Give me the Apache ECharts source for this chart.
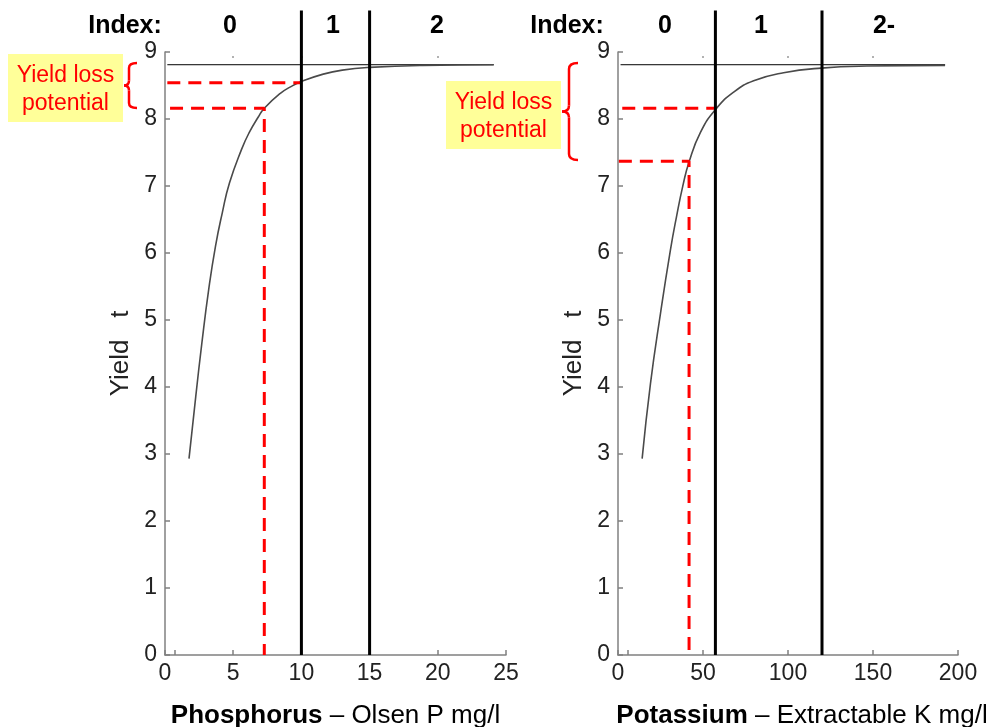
<!DOCTYPE html>
<html>
<head>
<meta charset="utf-8">
<script src="https://cdn.jsdelivr.net/npm/echarts@6/dist/echarts.min.js"></script>
<style>
  html, body { margin: 0; background: #fff; }
  #main { width: 998px; height: 727px; }
</style>
</head>
<body>
<div id="main"></div>
<script>
// response curves: [soil test value, yield t]
var pCurve = [[1.76, 2.93], [2.25, 3.85], [2.70, 4.65], [3.20, 5.45], [3.70, 6.10], [4.20, 6.60],
  [4.72, 7.04], [5.62, 7.55], [6.18, 7.80], [6.84, 8.03], [7.28, 8.16], [8.43, 8.38], [9.2, 8.48],
  [10.0, 8.56], [11.6, 8.67], [13.0, 8.73], [15.0, 8.77], [18.9, 8.80], [24.1, 8.81]];
var kCurve = [[14.2, 2.93], [19.1, 4.05], [25.0, 5.10], [30.8, 6.04], [34.4, 6.54], [38.3, 7.02],
  [41.8, 7.36], [48.5, 7.80], [57.3, 8.14], [68.0, 8.40], [79.8, 8.57], [97.4, 8.69],
  [119.5, 8.76], [146.4, 8.79], [192.4, 8.80]];

var plateau = 8.81;
var pPlateauRange = [0.17, 24.1];
var kPlateauRange = [1.5, 192.4];

// index boundaries (vertical black lines), top end sits above the plot
var pIndexBreaks = [10, 15];
var kIndexBreaks = [57.3, 120];
var breakTop = 9.62;

// yield loss guides (red dashed)
var pLossUpper = [[0.17, 8.54], [10, 8.54]];
var pLossLower = [[0.37, 8.16], [7.28, 8.16], [7.28, 0]];
var kLossUpper = [[2.5, 8.16], [57.3, 8.16]];
var kLossLower = [[0.5, 7.37], [41.8, 7.37], [41.8, 0]];

var pTicks = [0, 0.75, 5, 10, 15, 20, 25];
var kTicks = [0, 6, 50, 100, 150, 200];
var pTopTicks = [5, 10, 15, 20];
var kTopTicks = [50, 100, 150];

var pIndexLabels = ['0', '1', '2'];
var kIndexLabels = ['0', '1', '2-'];

var FONT = '"Liberation Sans", Arial, sans-serif';
var axisGray = '#808080';

var chart = echarts.init(document.getElementById('main'));

function bottomX(grid, max, interval, ticks, title, pad) {
  return {
    type: 'value', gridIndex: grid, position: 'bottom', min: 0, max: max, interval: interval,
    axisLine: { lineStyle: { color: axisGray, width: 1.5 } },
    axisTick: { inside: true, length: 5, customValues: ticks, lineStyle: { color: axisGray, width: 1.5 } },
    axisLabel: { color: '#222', fontSize: 23, fontFamily: FONT, margin: 7 },
    splitLine: { show: false },
    name: title, nameLocation: 'middle', nameGap: 48,
    nameTextStyle: {
      color: '#000', fontSize: 26, fontFamily: FONT, padding: pad,
      rich: { b: { fontWeight: 'bold', fontSize: 26, fontFamily: FONT, color: '#000' } }
    }
  };
}
function topX(grid, max, ticks) {
  return {
    type: 'value', gridIndex: grid, position: 'top', min: 0, max: max, offset: -4,
    axisLine: { show: false },
    axisTick: { inside: true, length: 2, customValues: ticks, lineStyle: { color: '#999', width: 1.5 } },
    axisLabel: { show: false }, splitLine: { show: false }
  };
}
function leftY(grid) {
  return {
    type: 'value', gridIndex: grid, min: 0, max: 9, interval: 1,
    axisLine: { show: true, lineStyle: { color: axisGray, width: 1.5 } },
    axisTick: { show: true, inside: true, length: 5, lineStyle: { color: axisGray, width: 1.5 } },
    axisLabel: { color: '#222', fontSize: 23, fontFamily: FONT, margin: 8 },
    splitLine: { show: false },
    name: 'Yield   t', nameLocation: 'middle', nameGap: 31,
    nameTextStyle: { color: '#222', fontSize: 26, fontFamily: FONT }
  };
}

function lineSeries(xi, yi, data, style, extra) {
  var s = {
    type: 'line', xAxisIndex: xi, yAxisIndex: yi, data: data, symbol: 'none',
    lineStyle: style, silent: true, animation: false
  };
  for (var k in extra) s[k] = extra[k];
  return s;
}

var series = [];
function addPanel(xi, yi, curve, plateauRange, breaks, upper, lower) {
  series.push(lineSeries(xi, yi, [[plateauRange[0], plateau], [plateauRange[1], plateau]],
    { color: '#000', width: 1 }));
  series.push(lineSeries(xi, yi, curve, { color: '#4a4a4a', width: 1.6 }, { smooth: 0.5 }));
  series.push(lineSeries(xi, yi, upper, { color: '#ff0000', width: 3, type: [13, 8] }));
  series.push(lineSeries(xi, yi, lower, { color: '#ff0000', width: 3, type: [13, 8] }));
  breaks.forEach(function (b) {
    series.push(lineSeries(xi, yi, [[b, 0], [b, breakTop]], { color: '#000', width: 3 }, { clip: false }));
  });
}
addPanel(0, 0, pCurve, pPlateauRange, pIndexBreaks, pLossUpper, pLossLower);
addPanel(2, 1, kCurve, kPlateauRange, kIndexBreaks, kLossUpper, kLossLower);

function brace(xTip, xMid, xEnd, y0, y1, r) {
  var ym = (y0 + y1) / 2;
  var st = { stroke: '#ff0000', lineWidth: 2.5, fill: null };
  return [
    { type: 'bezierCurve', shape: { x1: xEnd, y1: y0, cpx1: xMid, cpy1: y0, x2: xMid, y2: y0 + r }, style: st },
    { type: 'line', shape: { x1: xMid, y1: y0 + r, x2: xMid, y2: ym - r }, style: st },
    { type: 'bezierCurve', shape: { x1: xMid, y1: ym - r, cpx1: xMid, cpy1: ym, x2: xTip, y2: ym }, style: st },
    { type: 'bezierCurve', shape: { x1: xTip, y1: ym, cpx1: xMid, cpy1: ym, x2: xMid, y2: ym + r }, style: st },
    { type: 'line', shape: { x1: xMid, y1: ym + r, x2: xMid, y2: y1 - r }, style: st },
    { type: 'bezierCurve', shape: { x1: xMid, y1: y1 - r, cpx1: xMid, cpy1: y1, x2: xEnd, y2: y1 }, style: st }
  ];
}
function noteBox(x, y, w, h) {
  return [
    { type: 'rect', shape: { x: x, y: y, width: w, height: h }, style: { fill: '#ffff99' } },
    { type: 'text', x: x + w / 2, y: y + h / 2 + 2,
      style: { text: 'Yield loss\npotential', fill: '#ff0000', font: '23px ' + FONT,
        align: 'center', verticalAlign: 'middle', lineHeight: 28 } }
  ];
}
function idxText(x, t) {
  return { type: 'text', x: x, y: 26,
    style: { text: t, fill: '#000', font: 'bold 25px ' + FONT, align: 'center', verticalAlign: 'middle' } };
}

var graphics = [].concat(
  noteBox(8, 54, 115, 68), noteBox(446, 81, 115, 68),
  brace(124, 129, 137, 63, 108, 5), brace(562, 569, 578, 63, 160, 6),
  [idxText(125, 'Index:'), idxText(230, pIndexLabels[0]), idxText(333, pIndexLabels[1]), idxText(437, pIndexLabels[2]),
   idxText(567, 'Index:'), idxText(665, kIndexLabels[0]), idxText(761, kIndexLabels[1]), idxText(884, kIndexLabels[2])]
);

chart.setOption({
  backgroundColor: '#fff',
  animation: false,
  grid: [
    { left: 165, right: 492, top: 52, bottom: 72, outerBoundsMode: 'none' },
    { left: 618, right: 40, top: 52, bottom: 72, outerBoundsMode: 'none' }
  ],
  xAxis: [
    bottomX(0, 25, 5, pTicks, '{b|Phosphorus} – Olsen P mg/l', [0, 0, 0, 0]),
    topX(0, 25, pTopTicks),
    bottomX(1, 200, 50, kTicks, '{b|Potassium} – Extractable K mg/l', [0, 0, 0, 28]),
    topX(1, 200, kTopTicks)
  ],
  yAxis: [leftY(0), leftY(1)],
  series: series,
  graphic: graphics
});
</script>
</body>
</html>
